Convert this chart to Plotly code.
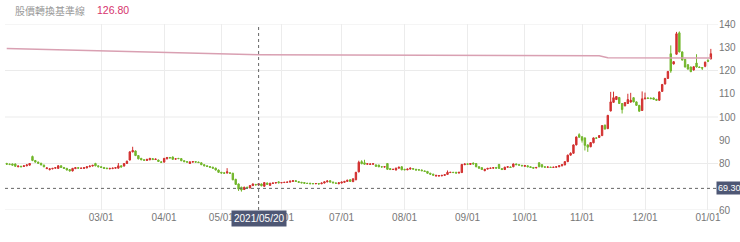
import pandas as pd
import plotly.graph_objects as go

# ---- trading calendar (TWSE, 2021-01-04 .. 2022-01-04) ----
holidays = ["2021-02-08", "2021-02-09", "2021-02-10", "2021-02-11", "2021-02-12",
            "2021-02-15", "2021-02-16", "2021-03-01", "2021-04-02", "2021-04-05",
            "2021-06-14", "2021-09-20", "2021-09-21", "2021-10-11", "2021-12-31"]
dates = pd.bdate_range("2021-01-04", "2022-01-04", freq="C",
                       holidays=holidays).strftime("%Y-%m-%d").tolist()

# ---- OHLC ----
open_ = [
    80.0, 79.7, 79.8, 79.8, 78.6, 78.8, 78.7, 79.0, 79.3, 83.0, 81.3, 80.6, 80.1, 79.3, 77.8, 77.4, 77.7, 78.0, 77.9, 79.0,
    78.3, 77.9, 77.4, 76.8, 77.8, 78.2, 77.9, 77.9, 78.1, 78.6, 78.9, 80.0, 79.0,
    78.6, 78.3, 78.0, 77.7, 77.8, 78.0, 78.0, 79.0, 78.9, 80.0, 81.5, 85.0, 85.4, 83.4, 82.2, 81.6, 81.3, 81.6, 82.1, 81.7, 81.5, 80.7,
    80.6, 82.0, 82.6, 82.8, 81.9, 82.2, 82.1, 81.2, 80.8, 80.0, 80.6, 80.8, 80.6, 80.3, 79.5, 79.0, 78.7, 78.4, 78.0, 77.2,
    76.2, 76.0, 75.9, 76.0, 75.8, 73.2, 71.2, 69.8, 68.8, 69.8, 69.5, 70.5, 71.0, 70.7, 71.2, 70.2, 71.6, 70.6, 71.4, 71.6, 72.1,
    71.7, 71.8, 71.9, 72.0, 72.3, 72.6, 72.2, 71.9, 71.8, 71.5, 71.5, 71.4, 71.3, 71.4, 71.3, 71.6, 72.1, 72.6, 72.0, 71.6, 71.3,
    71.6, 71.9, 72.3, 73.0, 72.2, 73.0, 76.4, 80.8, 80.3, 79.7, 79.6, 79.7, 79.4, 79.3, 78.6, 78.5, 80.0, 77.8, 77.4, 77.2, 78.0, 78.6,
    77.5, 77.3, 77.6, 77.8, 77.5, 77.3, 77.2, 76.8, 76.6, 75.8, 75.4, 74.6, 74.6, 74.7, 74.9, 75.3, 76.1, 76.2, 76.2, 75.9, 76.1, 79.5,
    79.8, 79.6, 80.2, 80.0, 78.6, 78.2, 76.9, 77.6, 77.9, 78.0, 78.3, 79.6, 77.8, 77.4, 78.4, 78.5, 78.6, 79.8, 79.5, 79.2,
    78.8, 79.0, 78.6, 78.3, 78.1, 80.3, 79.5, 78.6, 78.4, 78.4, 78.3, 78.4, 78.6, 79.0, 79.4, 80.8, 83.6, 84.4, 88.0, 92.4,
    91.5, 91.0, 88.0, 87.2, 88.9, 91.0, 91.2, 92.0, 96.5, 95.0, 102.6, 106.3, 107.5, 108.4, 105.8, 104.8, 105.8, 106.4, 108.3, 106.5, 105.0, 102.8,
    107.8, 108.2, 108.1, 108.2, 107.6, 107.2, 111.0, 114.2, 116.6, 127.2, 122.8, 127.0, 136.2, 128.0, 124.8, 122.5, 121.5, 120.2, 123.2, 121.5, 121.3, 121.8,
    124.4, 125.0,
]
high = [
    80.3, 80.0, 80.0, 80.0, 79.1, 79.0, 79.2, 79.6, 80.2, 83.4, 81.5, 80.8, 80.3, 79.5, 78.3, 77.9, 78.1, 78.4, 79.3, 79.2,
    78.5, 78.1, 77.6, 78.1, 78.4, 78.4, 78.2, 78.4, 78.8, 79.1, 79.4, 80.3, 79.2,
    78.8, 78.5, 78.2, 78.1, 78.2, 78.4, 80.2, 79.2, 80.2, 81.2, 85.2, 87.2, 85.6, 83.6, 82.4, 81.8, 82.0, 82.4, 82.3, 82.1, 81.7, 80.9,
    82.4, 82.8, 82.8, 83.0, 82.2, 82.4, 82.3, 81.4, 81.0, 80.9, 81.0, 81.0, 80.8, 80.5, 79.7, 79.2, 78.9, 78.6, 78.2, 77.4,
    76.4, 76.2, 78.0, 76.2, 76.0, 73.4, 71.4, 70.0, 70.0, 70.0, 70.7, 71.4, 71.2, 71.5, 71.4, 72.0, 71.8, 71.7, 71.8, 72.0, 72.3,
    72.0, 72.1, 72.2, 72.6, 72.8, 72.8, 72.4, 72.1, 72.0, 71.7, 71.7, 71.6, 71.6, 71.6, 71.8, 72.3, 72.7, 72.8, 72.2, 71.8, 71.9,
    72.2, 72.5, 73.0, 73.2, 73.6, 76.4, 81.2, 81.4, 81.6, 80.1, 80.0, 80.1, 79.6, 79.5, 78.8, 78.8, 80.2, 78.0, 77.7, 78.2, 78.6, 78.8,
    77.7, 77.8, 78.2, 78.0, 77.7, 77.5, 77.4, 77.0, 76.8, 76.0, 75.6, 75.1, 75.0, 75.1, 75.4, 77.0, 76.4, 76.4, 76.4, 76.4, 79.8, 80.0,
    80.0, 80.2, 80.4, 80.2, 78.8, 78.4, 77.7, 78.1, 78.2, 78.4, 78.5, 79.8, 78.0, 78.6, 78.8, 78.7, 80.0, 80.0, 79.7, 79.4,
    79.3, 79.2, 78.8, 78.5, 78.5, 80.5, 79.7, 78.8, 78.7, 78.6, 78.6, 78.8, 79.2, 79.7, 81.0, 83.8, 84.8, 88.2, 91.6, 93.0,
    91.7, 91.2, 88.2, 89.2, 91.2, 91.3, 92.2, 96.5, 96.7, 100.9, 110.8, 110.9, 109.0, 108.6, 106.0, 106.4, 110.0, 110.4, 108.5, 106.7, 105.2, 111.0,
    110.5, 108.4, 108.4, 108.4, 107.8, 111.0, 114.2, 116.8, 119.8, 130.8, 124.0, 136.6, 136.8, 128.2, 125.0, 122.7, 121.7, 121.8, 127.0, 121.7, 121.5, 123.8,
    124.8, 129.3,
]
low = [
    79.5, 79.3, 79.1, 78.6, 78.4, 78.4, 78.5, 78.8, 79.1, 81.0, 80.4, 79.9, 79.2, 78.4, 77.6, 77.0, 77.5, 77.8, 77.7, 78.1,
    77.7, 77.0, 76.5, 76.6, 77.6, 77.8, 77.7, 77.7, 77.9, 78.4, 78.7, 78.8, 78.4,
    78.1, 77.7, 77.6, 77.5, 77.6, 77.8, 77.8, 78.3, 78.7, 79.8, 81.3, 84.8, 83.2, 81.8, 81.4, 81.2, 81.1, 81.4, 81.5, 81.5, 80.7, 80.3,
    80.4, 81.8, 82.2, 81.6, 81.7, 81.9, 81.0, 80.6, 80.4, 79.8, 80.4, 80.4, 80.2, 79.3, 78.8, 78.5, 78.2, 77.8, 77.0, 76.0,
    75.7, 75.6, 75.7, 75.6, 72.8, 70.8, 68.2, 67.9, 68.6, 69.3, 69.3, 70.3, 70.6, 70.5, 70.2, 70.0, 70.8, 70.4, 71.2, 71.4, 71.5,
    71.5, 71.6, 71.7, 71.8, 72.1, 72.1, 71.7, 71.5, 71.3, 71.2, 71.1, 71.1, 71.1, 71.0, 71.1, 71.4, 71.9, 71.8, 71.5, 71.3, 71.1,
    71.4, 71.7, 72.1, 72.1, 72.0, 72.8, 76.2, 79.7, 79.5, 79.5, 79.4, 79.5, 78.6, 78.4, 78.4, 78.3, 77.3, 77.2, 77.2, 77.0, 77.8, 77.1,
    77.1, 77.1, 77.4, 77.4, 77.0, 77.0, 76.7, 76.4, 75.6, 75.2, 74.8, 74.4, 74.4, 74.5, 74.7, 75.1, 75.9, 75.9, 75.7, 75.7, 75.9, 79.3,
    79.5, 79.4, 79.6, 78.4, 77.8, 77.2, 76.7, 77.4, 77.7, 77.8, 77.8, 77.7, 77.2, 77.2, 78.2, 78.1, 78.4, 79.3, 79.1, 78.8,
    78.6, 78.4, 78.1, 77.8, 77.9, 78.4, 78.3, 78.2, 78.2, 78.1, 78.1, 78.2, 78.4, 78.8, 79.2, 80.6, 83.4, 84.2, 87.8, 91.1,
    89.0, 85.6, 85.0, 87.0, 88.7, 90.6, 91.0, 91.8, 94.6, 94.8, 102.4, 106.1, 107.3, 105.6, 101.5, 104.6, 105.6, 106.2, 106.3, 104.8, 102.3, 102.6,
    107.6, 107.8, 107.7, 107.4, 107.0, 107.0, 110.8, 114.0, 116.4, 119.0, 122.6, 126.8, 127.8, 124.3, 121.3, 120.4, 119.3, 120.0, 121.3, 121.1, 120.2, 121.4,
    123.6, 124.8,
]
close = [
    79.7, 79.6, 79.3, 78.8, 78.9, 78.6, 79.0, 79.4, 80.0, 81.3, 80.6, 80.1, 79.4, 78.6, 78.1, 77.7, 77.9, 78.2, 79.0, 78.3,
    77.9, 77.2, 76.8, 77.9, 78.2, 78.0, 78.0, 78.2, 78.6, 78.9, 79.2, 79.0, 78.6,
    78.3, 77.9, 77.8, 77.9, 78.0, 78.2, 79.0, 78.5, 80.0, 81.0, 85.0, 85.6, 83.4, 82.0, 81.6, 81.4, 81.8, 82.2, 81.7, 81.9, 80.9, 80.5,
    82.2, 82.6, 82.4, 81.8, 82.0, 82.1, 81.2, 80.8, 80.6, 80.7, 80.8, 80.6, 80.4, 79.5, 79.0, 78.7, 78.4, 78.0, 77.2, 76.2,
    75.9, 75.8, 76.4, 75.8, 73.0, 71.0, 69.0, 68.6, 69.8, 69.5, 70.5, 71.2, 70.8, 71.3, 70.4, 71.8, 71.0, 71.5, 71.6, 71.8, 71.7,
    71.8, 71.9, 72.0, 72.4, 72.6, 72.3, 71.9, 71.7, 71.5, 71.4, 71.3, 71.3, 71.4, 71.2, 71.6, 72.1, 72.5, 72.0, 71.7, 71.5, 71.7,
    72.0, 72.3, 72.8, 72.3, 73.4, 76.2, 80.5, 79.9, 79.7, 79.9, 79.8, 79.9, 78.8, 78.6, 78.5, 78.6, 77.5, 77.4, 77.5, 78.0, 78.4, 77.3,
    77.3, 77.6, 78.0, 77.6, 77.2, 77.2, 76.9, 76.6, 75.8, 75.4, 75.0, 74.9, 74.8, 74.9, 75.2, 76.2, 76.2, 76.1, 75.9, 76.2, 79.6, 79.8,
    79.7, 80.0, 79.8, 78.6, 78.0, 77.4, 77.5, 77.9, 78.0, 78.2, 78.0, 77.9, 77.4, 78.4, 78.6, 78.3, 79.8, 79.5, 79.3, 79.0,
    79.1, 78.6, 78.3, 78.0, 78.3, 78.6, 78.5, 78.4, 78.5, 78.3, 78.4, 78.6, 79.0, 79.5, 80.8, 83.6, 84.4, 88.0, 91.4, 91.3,
    90.0, 87.8, 87.0, 89.0, 91.0, 90.9, 92.0, 96.3, 94.8, 100.7, 106.5, 108.3, 108.8, 105.8, 103.2, 106.2, 107.5, 107.2, 106.5, 105.0, 102.5, 107.8,
    108.1, 108.0, 107.9, 107.6, 107.2, 110.8, 114.0, 116.6, 119.6, 119.8, 123.8, 135.8, 128.0, 124.5, 121.5, 120.6, 119.5, 121.6, 121.5, 121.3, 121.0, 123.6,
    124.0, 127.2,
]
assert len(dates) == len(open_) == len(high) == len(low) == len(close)

# ---- conversion baseline (股價轉換基準線) ----
base_dates = ["2021-01-04", "2021-05-20", "2021-11-09", "2021-11-12", "2022-01-04"]
base_vals = [129.5, 126.8, 126.3, 125.5, 125.4]

# ---- axis ticks ----
tick_dates = ["2021-03-02", "2021-04-01", "2021-05-03", "2021-06-01", "2021-07-01", "2021-08-02",
              "2021-09-01", "2021-10-01", "2021-11-01", "2021-12-01", "2022-01-03"]
tick_text = ["03/01", "04/01", "05/01", "06/01", "07/01", "08/01",
             "09/01", "10/01", "11/01", "12/01", "01/01"]
y_ticks = [60, 80, 90, 100, 110, 120, 130, 140]
grid_levels = [60, 80, 100, 120, 140]

cross_date = "2021-05-20"
cross_label = "2021/05/20"
cross_price = 69.30
title_text = "股價轉換基準線"
title_value = "126.80"

RED = "#d2302f"
GREEN = "#72b62b"
LABEL_BG = "#4e5774"
FONT = "Liberation Sans, Arial, sans-serif"

fig = go.Figure()
fig.add_trace(go.Candlestick(
    x=dates, open=open_, high=high, low=low, close=close,
    increasing=dict(line=dict(color=RED, width=1), fillcolor=RED),
    decreasing=dict(line=dict(color=GREEN, width=1), fillcolor=GREEN),
    whiskerwidth=0, showlegend=False, hoverinfo="skip",
))
fig.add_trace(go.Scatter(
    x=base_dates, y=base_vals, mode="lines",
    line=dict(color="#d9a0b2", width=1.5), showlegend=False, hoverinfo="skip",
))

shapes = []
for g in grid_levels:
    shapes.append(dict(type="line", xref="paper", x0=0, x1=1, yref="y", y0=g, y1=g,
                       line=dict(color="#ebebeb", width=1), layer="below"))
cx = dates.index(cross_date)
shapes.append(dict(type="line", xref="x", x0=cx, x1=cx, yref="paper", y0=0, y1=1,
                   line=dict(color="#666", width=1, dash="3px,3px")))
shapes.append(dict(type="line", xref="paper", x0=0, x1=1, yref="y", y0=cross_price, y1=cross_price,
                   line=dict(color="#666", width=1, dash="3px,3px")))

annotations = [
    dict(xref="paper", yref="paper", x=0.011, y=1.075, xanchor="left", yanchor="middle",
         text=title_text, showarrow=False,
         font=dict(family="Noto Sans CJK TC, sans-serif", size=10, color="#9a9a9a")),
    dict(xref="paper", yref="paper", x=0.126, y=1.075, xanchor="left", yanchor="middle",
         text=title_value, showarrow=False,
         font=dict(family=FONT, size=10.5, color="#d6336c")),
    dict(xref="x", yref="paper", x=cx, y=0, xanchor="center", yanchor="top",
         text=cross_label, showarrow=False, bgcolor=LABEL_BG, borderpad=2,
         font=dict(family=FONT, size=10, color="white")),
    dict(xref="paper", yref="y", x=1, y=cross_price, xanchor="left", yanchor="middle",
         text=f"{cross_price:.2f}", showarrow=False, bgcolor=LABEL_BG, borderpad=1,
         xshift=-2, font=dict(family=FONT, size=9, color="white")),
]

fig.update_layout(
    width=740, height=242,
    margin=dict(l=5, r=22, t=24, b=32),
    paper_bgcolor="white", plot_bgcolor="white",
    font=dict(family=FONT, size=10, color="#777"),
    shapes=shapes, annotations=annotations,
    xaxis=dict(type="category", range=[-0.6, 248.5], tickvals=tick_dates, ticktext=tick_text,
               showgrid=True, gridcolor="#ececec", gridwidth=1, ticks="", showline=False,
               zeroline=False, rangeslider=dict(visible=False), fixedrange=True,
               tickfont=dict(size=10, color="#777")),
    yaxis=dict(side="right", range=[60, 140], tickvals=y_ticks, showgrid=False, zeroline=False,
               ticks="", showline=False, tickfont=dict(size=10, color="#777"), fixedrange=True),
    hovermode=False,
)

fig.write_html("out.html")
